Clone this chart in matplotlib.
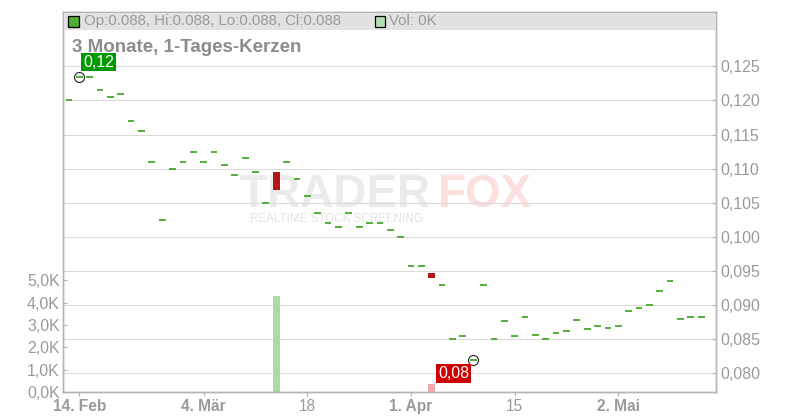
import matplotlib
matplotlib.use("Agg")
import numpy as np
import matplotlib.pyplot as plt
from matplotlib.patches import Rectangle

plt.rcParams['font.family'] = ['Liberation Sans', 'DejaVu Sans']

# ---------------- data ----------------
# trading-day index (0 = 14. Feb)
day_index = list(range(-1, 61))
opens = [0.1200, 0.1235, 0.1235, 0.1215, 0.1205, 0.1210, 0.1170, 0.1155, 0.1110, 0.1025,
         0.1100, 0.1110, 0.1125, 0.1110, 0.1125, 0.1105, 0.1090, 0.1115, 0.1095, 0.1050,
         0.1095, 0.1110, 0.1085, 0.1060, 0.1035, 0.1020, 0.1015, 0.1035, 0.1015, 0.1020,
         0.1020, 0.1010, 0.1000, 0.0958, 0.0958, 0.0947, 0.0930, 0.0850, 0.0855, 0.0820,
         0.0930, 0.0850, 0.0877, 0.0855, 0.0883, 0.0856, 0.0850, 0.0859, 0.0862, 0.0878,
         0.0865, 0.0870, 0.0867, 0.0870, 0.0892, 0.0895, 0.0900, 0.0920, 0.0936, 0.0880,
         0.0882, 0.0883]
closes = [0.1200, 0.1235, 0.1235, 0.1215, 0.1205, 0.1210, 0.1170, 0.1155, 0.1110, 0.1025,
          0.1100, 0.1110, 0.1125, 0.1110, 0.1125, 0.1105, 0.1090, 0.1115, 0.1095, 0.1050,
          0.1068, 0.1110, 0.1085, 0.1060, 0.1035, 0.1020, 0.1015, 0.1035, 0.1015, 0.1020,
          0.1020, 0.1010, 0.1000, 0.0958, 0.0958, 0.0940, 0.0930, 0.0850, 0.0855, 0.0820,
          0.0930, 0.0850, 0.0877, 0.0855, 0.0883, 0.0856, 0.0850, 0.0859, 0.0862, 0.0878,
          0.0865, 0.0870, 0.0867, 0.0870, 0.0892, 0.0895, 0.0900, 0.0920, 0.0936, 0.0880,
          0.0882, 0.0883]

vol_days = [19, 34]
vol_k = [4.3, 0.35]
vol_colors = ['#a8dca4', '#f2a8b1']

tick_days = [0, 12, 22, 32, 42, 52]
tick_labels = ['14. Feb', '4. Mär', '18', '1. Apr', '15', '2. Mai']
tick_bold = [True, True, False, True, False, True]

price_ticks = [0.080, 0.085, 0.090, 0.095, 0.100, 0.105, 0.110, 0.115, 0.120, 0.125]
vol_ticks = [0, 1, 2, 3, 4, 5]

title = '3 Monate, 1-Tages-Kerzen'

# ---------------- layout ----------------
W, H = 800, 420
L, R, B, T = 63, 716, 392, 12
HEADER_BOTTOM = 30


def fx(px):
    return px / W


def fy(py):
    return (H - py) / H


GREEN = '#46a82a'
RED = '#b5161b'
GRID = '#dadada'
SPINE = '#b4b4b4'
TXT = '#9a9a9a'

fig = plt.figure(figsize=(W / 100, H / 100), dpi=100)
ax_v = fig.add_axes([fx(L), fy(B), (R - L) / W, (B - T) / H])
ax_p = ax_v.twinx()
ax_v.set_zorder(1)
ax_p.set_zorder(2)
ax_p.patch.set_visible(False)

xlim = (-1.573, 61.43)
ax_v.set_xlim(*xlim)
ax_p.set_xlim(*xlim)
ax_p.set_ylim(0.077259, 0.13296)
ax_v.set_ylim(0, 17.04)

# watermark (behind everything)
ax_v.text(fx(240), fy(206.7), 'TRADER', transform=fig.transFigure, fontsize=33,
          fontweight='bold', color='#ebebeb', va='baseline', ha='left', zorder=0.1)
ax_v.text(fx(438), fy(206.7), 'FOX', transform=fig.transFigure, fontsize=33,
          fontweight='bold', color='#fcdfdf', va='baseline', ha='left', zorder=0.1)
ax_v.text(fx(250.5), fy(219.5), 'REALTIME STOCK SCREENING', transform=fig.transFigure,
          fontsize=8.4, color='#e4e4e4', va='center', ha='left', zorder=0.1)

# grid
ax_p.set_axisbelow(True)
ax_p.grid(True, color=GRID, linewidth=0.75)
ax_v.grid(False)

# volume bars (drawn on price axes so they sit above the grid, scaled by volume axis)
ax_p.bar(vol_days, vol_k, width=0.65, color=vol_colors, transform=ax_v.transData,
         zorder=1)

# candles
cw = 0.65
for d, o, c in zip(day_index, opens, closes):
    if abs(c - o) < 1e-6:
        ax_p.hlines(c, d - cw / 2, d + cw / 2, color=GREEN, linewidth=1.3, zorder=3)
    else:
        col = RED if c < o else GREEN
        ax_p.bar(d, c - o, bottom=o, width=cw, color=col, zorder=3)

# max / min markers and labels
closes_arr = np.array(closes)
imax = int(np.argmax(closes_arr))
imin = int(np.argmin(closes_arr))
for i, fc, off, ha, va in [(imax, '#009a00', (4, 7), 'left', 'bottom'),
                           (imin, '#cc0000', (-4, -6), 'right', 'top')]:
    ax_p.plot(day_index[i], closes[i], marker='o', markersize=7.2, markerfacecolor='none',
              markeredgecolor='#222222', markeredgewidth=0.8, zorder=4)
    ax_p.annotate(f"{closes[i]:.2f}".replace('.', ','), (day_index[i], closes[i]),
                  xytext=off, textcoords='offset pixels', ha=ha, va=va,
                  fontsize=11.5, color='white', zorder=5,
                  bbox=dict(boxstyle='square,pad=0.12', fc=fc, ec='none'))

# axes: price (right)
ax_p.set_yticks(price_ticks)
ax_p.set_yticklabels([f"{v:.3f}".replace('.', ',') for v in price_ticks])
ax_p.tick_params(axis='y', direction='in', length=2.9, width=0.8, color=SPINE, pad=2.9,
                 labelsize=11.5, labelcolor=TXT, right=True, left=False)

# axes: volume (left)
ax_v.set_yticks(vol_ticks)
ax_v.set_yticklabels([f"{v:.1f}K".replace('.', ',') for v in vol_ticks])
ax_v.tick_params(axis='y', direction='in', length=2.9, width=0.8, color=SPINE, pad=2.2,
                 labelsize=11.5, labelcolor=TXT, left=True, right=False)

# x axis
ax_p.set_xticks(tick_days)
ax_v.set_xticks(tick_days)
ax_v.set_xticklabels(tick_labels)
ax_p.tick_params(axis='x', bottom=False, labelbottom=False, top=False, labeltop=False)
ax_v.tick_params(axis='x', direction='out', length=2.9, width=0.8, color=SPINE, pad=2.2,
                 labelsize=11.2, labelcolor=TXT)
for lab, bold in zip(ax_v.get_xticklabels(), tick_bold):
    lab.set_fontweight('bold' if bold else 'normal')

for ax in (ax_v, ax_p):
    for s in ax.spines.values():
        s.set_color(SPINE)
        s.set_linewidth(1.0)

# header bar
fig.add_artist(Rectangle((fx(L + 0.6), fy(HEADER_BOTTOM)), (R - L - 1.2) / W,
                         (HEADER_BOTTOM - T - 0.6) / H, transform=fig.transFigure,
                         facecolor='#e2e2e2', edgecolor='none', zorder=5))
fig.add_artist(Rectangle((fx(68), fy(26.5)), 10.5 / W, 10.5 / H, transform=fig.transFigure,
                         facecolor='#4caf30', edgecolor='black', linewidth=0.9, zorder=6))
fig.add_artist(Rectangle((fx(374.5), fy(26.5)), 10.5 / W, 10.5 / H, transform=fig.transFigure,
                         facecolor='#b2deb0', edgecolor='black', linewidth=0.9, zorder=6))
o, c = opens[-1], closes[-1]
hi, lo = max(o, c), min(o, c)
fig.text(fx(84), fy(21.3), f"Op:{o:.3f}, Hi:{hi:.3f}, Lo:{lo:.3f}, Cl:{c:.3f}",
         fontsize=10.8, color=TXT, va='center', ha='left', zorder=7)
fig.text(fx(389), fy(21.3), "Vol: 0K", fontsize=10.8, color=TXT, va='center', ha='left',
         zorder=7)

# title
fig.text(fx(72.5), fy(48), title, fontsize=13.5, fontweight='bold', color='#8c8c8c',
         va='center', ha='left', zorder=7)

fig.savefig('out.png', dpi=100)
